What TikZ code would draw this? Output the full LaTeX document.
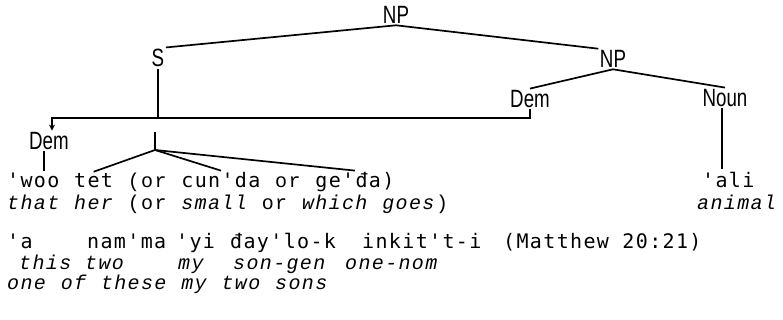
\documentclass[tikz,border=0pt]{standalone}
\usepackage{fontspec}
\usetikzlibrary{arrows.meta,calc,positioning}

\newfontfamily\catfont[FakeStretch=0.75]{Liberation Sans}
\newfontfamily\wordfont[LetterSpace=6.8,Ligatures=TeXOff]{DejaVu Sans Mono}
\newfontfamily\glossfont[LetterSpace=6.8,Ligatures=TeXOff]{Liberation Mono}

\tikzset{
  cat/.style={font=\catfont\fontsize{25}{27}\selectfont, inner sep=1.5pt},
  word/.style={font=\wordfont\fontsize{20}{22}\selectfont, anchor=base west, inner sep=0pt},
  plain/.style={font=\glossfont\fontsize{20}{22}\selectfont, anchor=base west, inner sep=0pt},
  gloss/.style={font=\glossfont\itshape\fontsize{20}{22}\selectfont, anchor=base west, inner sep=0pt},
  branch/.style={line width=1.7pt}
}

\begin{document}
\begin{tikzpicture}[x=1pt,y=-1pt]
  \useasboundingbox (0,0) rectangle (783,320);
  \def\p{13.4}
  \def\xa{7}

  % category labels of the tree
  \node[cat] (np)   at (396,15)  {NP};
  \node[cat] (s)    at (158,58)  {S};
  \node[cat] (np2)  at (613,59)  {NP};
  \node[cat] (dem)  at (530,99)  {Dem};
  \node[cat] (noun) at (725,98)  {Noun};
  \node[cat] (dem1) at (49,141)  {Dem};

  % first line: words and glosses
  \foreach \c/\t/\n in {0/'woo/woo,5/tet/tet,13/cun'da/cunda,23/ge'đa)/geda}
    \node[word] (\n) at ({\xa+\c*\p},188) {\t};
  \node[plain] (or1) at ({\xa+9*\p},188)  {(or};
  \node[plain] (or2) at ({\xa+20*\p},188) {or};
  \node[word] (ali) at (702,188) {'ali};

  \foreach \c/\t/\n in {0/that/that,5/her/her,13/small/small,22/which/which,28/goes/goes}
    \node[gloss] (g\n) at ({\xa+\c*\p},210) {\t};
  \node[plain] (gor1) at ({\xa+9*\p},210)  {(or};
  \node[plain] (gor2) at ({\xa+19*\p},210) {or};
  \node[plain] (gpar) at ({\xa+32*\p},210) {)};
  \node[gloss] (animal) at (697,210) {animal};

  % the sentence from Matthew
  \node[word] (a)     at (7,248)   {'a};
  \node[word] (namma) at (87,248)  {nam'ma};
  \node[word] (yi)    at (176,248) {'yi};
  \node[word] (daylo) at (230,248) {đay'lo-k};
  \node[word] (inkit) at (362,248) {inkit't-i};
  \node[word] (ref)   at (503,248) {(Matthew 20:21)};

  \node[gloss] (this)   at (19,269)  {this};
  \node[gloss] (two)    at (85,269)  {two};
  \node[gloss] (my)     at (178,269) {my};
  \node[gloss] (songen) at (233,269) {son-gen};
  \node[gloss] (onenom) at (345,269) {one-nom};

  \foreach \c/\t in {0/one,4/of,7/these,13/my,16/two,20/sons}
    \node[gloss] (f\t) at ({\xa+\c*\p},289) {\t};

  % branches
  \coordinate (bar) at (0,118);
  \coordinate (fantop) at (155,132);
  \coordinate (fan) at (155,150);

  \draw[branch] (np.south) -- (s.north east);
  \draw[branch] (np.south) -- (np2.north west);
  \draw[branch] (np2.south) -- (dem.north);
  \draw[branch] (np2.south) -- (noun.north);
  \draw[branch] (s.south) -- (s.south |- bar);
  % Dem moved over to the left
  \draw[branch,-{Stealth[length=6pt,width=6pt]}]
    (dem.south) -- (dem.south |- bar) -| ([xshift=3pt]dem1.north);
  \draw[branch] ([xshift=-5pt]dem1.south) -- ([xshift=-5pt,yshift=2pt]dem1.south |- woo.north);
  \draw[branch] (fantop) -- (fan);
  \foreach \w in {tet,cunda,geda}
    \draw[branch] (fan) -- ([yshift=2pt]\w.north);
  \draw[branch] ([xshift=-3pt]noun.south) -- ([xshift=-3pt,yshift=3pt]noun.south |- ali.north);
\end{tikzpicture}
\end{document}
